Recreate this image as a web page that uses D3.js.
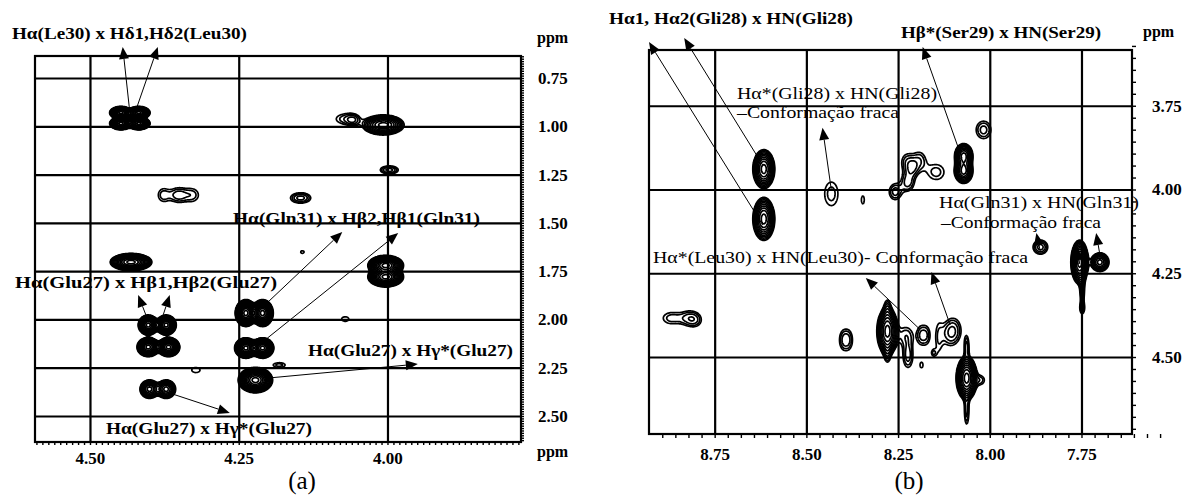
<!DOCTYPE html>
<html><head><meta charset="utf-8">
<script src="https://cdn.jsdelivr.net/npm/d3@7"></script>
<style>body{margin:0;background:#fff;} svg{display:block}</style>
</head><body><svg id="c" width="1187" height="500"></svg>
<script>
// ---- data (ppm) ----
const leftXTicks = [4.50, 4.25, 4.00];
const leftYTicks = [0.75, 1.00, 1.25, 1.50, 1.75, 2.00, 2.25, 2.50];
const rightXTicks = [8.75, 8.50, 8.25, 8.00, 7.75];
const rightYTicks = [3.75, 4.00, 4.25, 4.50];
const axisUnit = "ppm";
const panelTags = ["(a)", "(b)"];

// cross peaks: [F2 ppm, F1 ppm, half-width F2, half-width F1, contour levels]
const leftPeaks = [
  [4.448,0.930,0.019,0.033,14],[4.418,0.930,0.019,0.033,14],
  [4.448,0.985,0.019,0.033,14],[4.418,0.985,0.019,0.033,14],
  [4.377,1.356,0.008,0.030,2],[4.352,1.356,0.012,0.035,3],[4.328,1.356,0.010,0.030,2],
  [4.071,0.962,0.015,0.024,2],[4.058,0.967,0.007,0.018,2],
  [4.007,0.993,0.035,0.052,10],
  [3.997,1.226,0.015,0.021,4],
  [4.146,1.371,0.017,0.027,4],
  [4.431,1.703,0.035,0.045,13],
  [4.402,2.029,0.017,0.052,13],[4.372,2.029,0.017,0.052,13],
  [4.402,2.143,0.019,0.050,13],[4.368,2.143,0.019,0.050,13],
  [4.400,2.361,0.016,0.048,9],[4.372,2.361,0.016,0.048,9],
  [4.322,2.262,0.007,0.013,1],
  [4.238,1.967,0.018,0.070,14],[4.210,1.967,0.018,0.070,14],
  [4.238,2.148,0.019,0.053,14],[4.210,2.148,0.019,0.053,14],
  [4.222,2.314,0.029,0.066,14],
  [4.182,2.236,0.010,0.012,2],
  [4.071,1.998,0.006,0.012,1],
  [4.143,1.651,0.003,0.007,1],
  [4.003,1.720,0.030,0.052,14],[4.003,1.780,0.030,0.052,14]
];
const rightPeaks = [
  [8.616,3.939,0.030,0.058,10],[8.616,4.088,0.030,0.064,10],
  [8.432,4.013,0.018,0.035,2],
  [8.346,4.031,0.004,0.012,1],
  [8.258,4.007,0.016,0.023,3],[8.223,3.978,0.016,0.025,3],
  [8.226,3.918,0.013,0.021,2],[8.191,3.912,0.013,0.021,2],[8.210,3.936,0.010,0.016,2],
  [8.146,3.948,0.021,0.022,2],
  [8.071,3.900,0.025,0.037,9],[8.071,3.945,0.025,0.037,9],
  [8.017,3.822,0.020,0.026,3],
  [7.862,4.172,0.020,0.021,4],
  [7.755,4.217,0.024,0.066,11],
  [7.700,4.217,0.025,0.028,8],
  [7.748,4.300,0.006,0.040,3],[7.748,4.355,0.005,0.012,2],
  [8.400,4.449,0.009,0.023,2],[8.384,4.449,0.009,0.023,2],
  [8.279,4.423,0.029,0.072,10],[8.279,4.355,0.006,0.020,2],[8.279,4.490,0.006,0.020,2],
  [8.229,4.435,0.016,0.022,2],
  [8.223,4.497,0.013,0.034,3],
  [8.186,4.524,0.004,0.008,1],
  [8.188,4.435,0.008,0.022,2],[8.172,4.435,0.008,0.022,2],
  [8.140,4.446,0.005,0.027,1],
  [8.154,4.488,0.003,0.005,1],
  [8.112,4.430,0.014,0.026,2],[8.095,4.420,0.014,0.026,2],
  [8.063,4.563,0.029,0.066,11],[8.063,4.470,0.006,0.030,3],[8.063,4.660,0.006,0.040,3],
  [8.025,4.569,0.010,0.012,2],
  [8.868,4.384,0.022,0.016,2],[8.820,4.384,0.016,0.016,2],[8.801,4.390,0.008,0.009,1]
];

// annotations: arrows [from F2, from F1, tip F2, tip F1] (ppm)
const leftArrows = [
  [4.434,0.900,4.445,0.589],[4.421,0.900,4.386,0.589],
  [4.206,1.925,4.076,1.547],[4.206,2.107,3.982,1.553],
  [4.404,1.993,4.419,1.874],[4.377,1.977,4.366,1.874],
  [4.199,2.303,3.949,2.231],
  [4.382,2.365,4.265,2.484]
];
const rightArrows = [
  [8.619,4.106,8.929,3.560],[8.619,3.927,8.833,3.548],
  [8.432,4.001,8.456,3.816],
  [8.076,3.906,8.183,3.575],
  [7.862,4.185,7.873,4.130],
  [7.755,4.222,7.761,4.175],
  [7.699,4.200,7.710,4.130],
  [8.189,4.419,8.338,4.264],
  [8.108,4.404,8.159,4.246]
];
// labels: [text, left x, baseline y, width, bold]
const leftLabels = [
  ["Hα(Le30) x Hδ1,Hδ2(Leu30)", 12, 39, 235, true],
  ["Hα(Gln31) x Hβ2,Hβ1(Gln31)", 233, 224, 247, true],
  ["Hα(Glu27) x Hβ1,Hβ2(Glu27)", 15, 288, 262, true],
  ["Hα(Glu27) x Hγ*(Glu27)", 308, 356, 205, true],
  ["Hα(Glu27) x Hγ*(Glu27)", 106, 434, 206, true]
];
const rightLabels = [
  ["Hα1, Hα2(Gli28) x HN(Gli28)", 609, 24, 244, true],
  ["Hβ*(Ser29) x HN(Ser29)", 901, 38, 200, true],
  ["Hα*(Gli28) x HN(Gli28)", 737, 99, 200, false],
  ["–Conformação fraca", 737, 118, 162, false],
  ["Hα(Gln31) x HN(Gln31)", 939, 208, 200, false],
  ["–Conformação fraca", 941, 228, 160, false],
  ["Hα*(Leu30) x HN(Leu30)- Conformação fraca", 653, 263, 375, false]
];

const svg = d3.select("#c");
const fmt = d3.format(".2f");

function panel(cfg) {
  const x = d3.scaleLinear().domain(cfg.xd).range(cfg.xr);
  const y = d3.scaleLinear().domain(cfg.yd).range(cfg.yr);
  const x0 = cfg.xr[0], x1 = cfg.xr[1], y0 = cfg.yr[0], y1 = cfg.yr[1];
  const W = Math.round(x1 - x0), H = Math.round(y1 - y0);
  const g = svg.append("g");

  // gridlines
  g.append("g").attr("transform", `translate(0,${y1})`)
    .call(d3.axisBottom(x).tickValues(cfg.xt).tickSize(-(y1 - y0)).tickFormat(""))
    .call(s => s.select(".domain").remove())
    .selectAll("line").attr("stroke", "#000").attr("stroke-width", 2.2);
  g.append("g").attr("transform", `translate(${x1},0)`)
    .call(d3.axisRight(y).tickValues(cfg.yt).tickSize(-(x1 - x0)).tickFormat(""))
    .call(s => s.select(".domain").remove())
    .selectAll("line").attr("stroke", "#000").attr("stroke-width", 2.2);

  // minor ticks
  g.append("g").attr("transform", `translate(${x1},0)`)
    .call(d3.axisRight(y).tickValues(cfg.minorY).tickSize(cfg.minorLen).tickFormat(""))
    .call(s => s.select(".domain").remove())
    .selectAll("line").attr("stroke", "#000").attr("stroke-width", 1.4);
  g.append("g").attr("transform", `translate(0,${y1})`)
    .call(d3.axisBottom(x).tickValues(cfg.minorX).tickSize(cfg.minorLen).tickFormat(""))
    .call(s => s.select(".domain").remove())
    .selectAll("line").attr("stroke", "#000").attr("stroke-width", 1.4);

  // contours from peak list
  const vals = new Float64Array(W * H);
  const f = 1.3;
  cfg.peaks.forEach(([px, py, hx, hy, n]) => {
    const A = Math.pow(f, n - 0.5);
    const k = Math.sqrt(2 * Math.log(A));
    const sx = Math.abs(x(px + hx / k) - x(px));
    const sy = Math.abs(y(py + hy / k) - y(py));
    const cx = x(px) - x0, cy = y(py) - y0;
    const i0 = Math.max(0, Math.floor(cx - 4.5 * sx)), i1 = Math.min(W - 1, Math.ceil(cx + 4.5 * sx));
    const j0 = Math.max(0, Math.floor(cy - 4.5 * sy)), j1 = Math.min(H - 1, Math.ceil(cy + 4.5 * sy));
    for (let j = j0; j <= j1; j++) {
      const dy = (j + 0.5 - cy) / sy;
      for (let i = i0; i <= i1; i++) {
        const dx = (i + 0.5 - cx) / sx;
        vals[j * W + i] += A * Math.exp(-0.5 * (dx * dx + dy * dy));
      }
    }
  });
  const thresholds = d3.range(0, 40).map(k => Math.pow(f, k));
  const contours = d3.contours().size([W, H]).thresholds(thresholds)(vals);
  g.append("g").attr("transform", `translate(${x0},${y0})`)
    .selectAll("path").data(contours).join("path")
    .attr("d", d3.geoPath())
    .attr("fill", "none").attr("stroke", "#000").attr("stroke-width", 1.7)
    .attr("stroke-linejoin", "round");

  // frame
  g.append("rect").attr("x", x0).attr("y", y0).attr("width", x1 - x0).attr("height", y1 - y0)
    .attr("fill", "none").attr("stroke", "#000").attr("stroke-width", 2.2);

  // tick labels
  const yAx = g.append("g").attr("transform", `translate(${x1},0)`)
    .call(d3.axisRight(y).tickValues(cfg.yt).tickSize(0).tickPadding(cfg.yPad).tickFormat(fmt));
  yAx.select(".domain").remove();
  const xAx = g.append("g").attr("transform", `translate(0,${y1})`)
    .call(d3.axisBottom(x).tickValues(cfg.xt).tickSize(0).tickPadding(cfg.xPad).tickFormat(fmt));
  xAx.select(".domain").remove();
  g.selectAll(".tick text").attr("font-family", "'Liberation Serif', 'Times New Roman', serif")
    .attr("font-weight", "bold").attr("font-size", 17).attr("fill", "#000");

  // ppm units
  g.append("text").attr("x", cfg.ppmX).attr("y", cfg.ppmTopY).text(axisUnit)
    .attr("font-family", "'Liberation Serif', serif").attr("font-weight", "bold").attr("font-size", 16);
  if (cfg.ppmBotY) g.append("text").attr("x", cfg.ppmX).attr("y", cfg.ppmBotY).text(axisUnit)
    .attr("font-family", "'Liberation Serif', serif").attr("font-weight", "bold").attr("font-size", 16);

  // arrows
  const ag = g.append("g");
  cfg.arrows.forEach(([fx, fy, tx, ty]) => {
    const ax = x(fx), ay = y(fy), bx = x(tx), by = y(ty);
    const L = Math.hypot(bx - ax, by - ay), ux = (bx - ax) / L, uy = (by - ay) / L;
    const hl = Math.min(12, L), hw = 5;
    const baseX = bx - ux * hl, baseY = by - uy * hl;
    if (L > hl) ag.append("line").attr("x1", ax).attr("y1", ay).attr("x2", baseX).attr("y2", baseY)
      .attr("stroke", "#000").attr("stroke-width", 1);
    ag.append("path").attr("d", `M${bx},${by}L${baseX - uy * hw},${baseY + ux * hw}L${baseX + uy * hw},${baseY - ux * hw}Z`)
      .attr("fill", "#000");
  });

  // labels
  cfg.labels.forEach(([t, lx, ly, w, b]) => {
    g.append("text").attr("x", lx).attr("y", ly).text(t)
      .attr("font-family", "'Liberation Serif', 'Times New Roman', serif")
      .attr("font-size", 17).attr("font-weight", b ? "bold" : "normal")
      .attr("textLength", w).attr("lengthAdjust", "spacingAndGlyphs");
  });

  // panel tag
  g.append("text").attr("x", cfg.tagX).attr("y", 489).attr("text-anchor", "middle")
    .attr("font-family", "'Liberation Serif', serif").attr("font-size", 25).text(cfg.tag);
}

panel({
  xd: [4.5924, 3.7756], xr: [35, 521], yd: [0.636, 2.6346], yr: [56, 442],
  xt: leftXTicks, yt: leftYTicks, peaks: leftPeaks, arrows: leftArrows, labels: leftLabels,
  minorY: d3.range(0, 160).map(i => 0.6375 + i * 0.0125), minorX: d3.range(0, 82).map(i => 3.78 + i * 0.01),
  minorLen: 3, yPad: 17, xPad: 10, ppmX: 537, ppmTopY: 43, ppmBotY: 457, tag: panelTags[0], tagX: 302
});
panel({
  xd: [8.929, 7.6123], xr: [649, 1132], yd: [3.5836, 4.7298], yr: [50, 434],
  xt: rightXTicks, yt: rightYTicks, peaks: rightPeaks, arrows: rightArrows, labels: rightLabels,
  minorY: d3.range(-5, 28).map(i => 3.75 + i * 0.25 / 7), minorX: d3.range(-6, 33).map(i => 7.75 + i * 0.25 / 7),
  minorLen: 4, yPad: 20, xPad: 14, ppmX: 1143, ppmTopY: 37, ppmBotY: null, tag: panelTags[1], tagX: 909
});
</script>
</body></html>
